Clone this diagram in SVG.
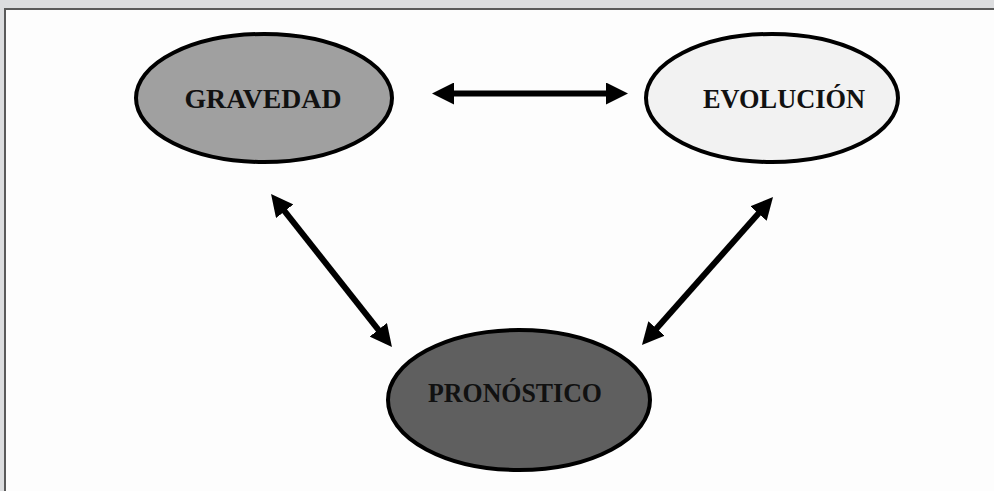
<svg xmlns="http://www.w3.org/2000/svg" width="994" height="491" viewBox="0 0 994 491">
<style>
.node ellipse{stroke:#000;stroke-width:4}
.node text{font-family:"Liberation Serif","Times New Roman",serif;font-weight:bold;font-size:28px;fill:#111;text-anchor:middle}
.conn line{stroke:#000;stroke-width:6;marker-start:url(#ah);marker-end:url(#ah)}
</style>
<defs>
<marker id="ah" markerUnits="userSpaceOnUse" markerWidth="22" markerHeight="22" refX="4" refY="11" orient="auto-start-reverse" viewBox="0 0 22 22">
<path d="M0,0 L22,11 L0,22 z" fill="#000"/>
</marker>
</defs>
<rect x="0" y="0" width="994" height="491" fill="#dcdddf"/>
<rect x="5" y="9" width="1000" height="490" fill="#fdfdfd" stroke="#5a5a5a" stroke-width="2"/>
<g id="gravedad" class="node">
<ellipse cx="264" cy="98" rx="128" ry="64" fill="#a0a0a0"/>
<text x="263" y="108" textLength="157" lengthAdjust="spacingAndGlyphs">GRAVEDAD</text>
</g>
<g id="evolucion" class="node">
<ellipse cx="772" cy="98" rx="126" ry="64" fill="#f2f2f2"/>
<text x="784" y="108" textLength="162" lengthAdjust="spacingAndGlyphs">EVOLUCIÓN</text>
</g>
<g id="pronostico" class="node">
<ellipse cx="519" cy="400" rx="131" ry="70" fill="#5f5f5f"/>
<text x="515" y="402" textLength="174" lengthAdjust="spacingAndGlyphs">PRONÓSTICO</text>
</g>
<g id="connectors" class="conn">
<line x1="450" y1="93.5" x2="610" y2="93.5"/>
<line x1="282.2" y1="208.1" x2="380.8" y2="332.9"/>
<line x1="761.1" y1="210.5" x2="653.9" y2="331.5"/>
</g>
</svg>
